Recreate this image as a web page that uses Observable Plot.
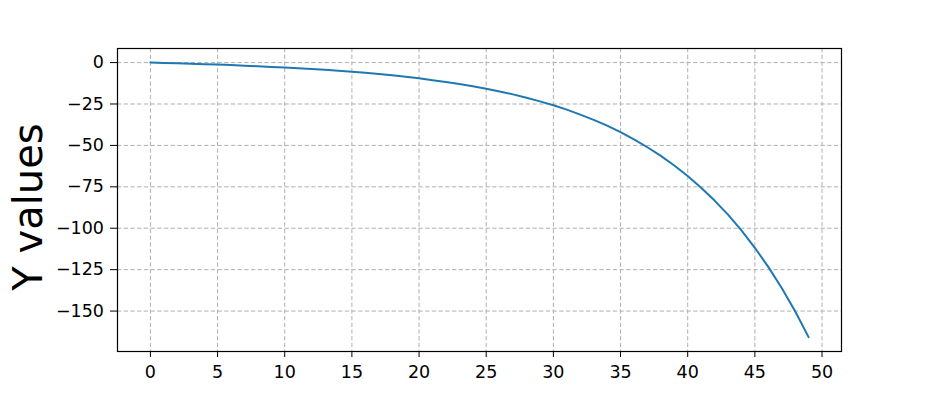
<!DOCTYPE html>
<html>
<head>
<meta charset="utf-8">
<script src="https://cdn.jsdelivr.net/npm/d3@7"></script>
<script src="https://cdn.jsdelivr.net/npm/@observablehq/plot@0.6"></script>
<style>
  html, body { margin: 0; padding: 0; background: #fff; }
  #chart { width: 934px; height: 401px; }
  svg { font-family: "DejaVu Sans", sans-serif; }
</style>
</head>
<body>
<div id="chart"></div>
<script>
// Data
const xValues = [0,1,2,3,4,5,6,7,8,9,10,11,12,13,14,15,16,17,18,19,20,21,22,23,24,25,26,27,28,29,30,31,32,33,34,35,36,37,38,39,40,41,42,43,44,45,46,47,48,49];
const yValues = [0,-0.2,-0.4,-0.7,-1.0,-1.2,-1.5,-1.9,-2.2,-2.6,-3.0,-3.4,-3.9,-4.4,-5.0,-5.6,-6.2,-6.9,-7.7,-8.6,-9.5,-10.6,-11.7,-12.9,-14.3,-15.8,-17.4,-19.2,-21.2,-23.4,-25.8,-28.4,-31.4,-34.6,-38.1,-42.0,-46.3,-51.1,-56.3,-62.1,-68.5,-75.5,-83.3,-91.8,-101.3,-111.8,-123.3,-136.1,-150.1,-165.7];
const xTicks = [0,5,10,15,20,25,30,35,40,45,50];
const yTicks = [0,-25,-50,-75,-100,-125,-150];
const yLabel = "Y values";

const data = xValues.map((x, i) => ({x, y: yValues[i]}));

const chart = Plot.plot({
  width: 934,
  height: 401,
  marginLeft: 117,
  marginRight: 93,
  marginTop: 48,
  marginBottom: 50,
  style: {background: "#fff", fontFamily: "DejaVu Sans, sans-serif"},
  x: {domain: [-2.45, 51.45]},
  y: {domain: [-174.4, 8.5]},
  marks: [
    Plot.gridX(xTicks, {stroke: "#b0b0b0", strokeOpacity: 1, strokeWidth: 1, strokeDasharray: "4.3,2.4"}),
    Plot.gridY(yTicks, {stroke: "#b0b0b0", strokeOpacity: 1, strokeWidth: 1, strokeDasharray: "4.3,2.4"}),
    Plot.line(data, {x: "x", y: "y", stroke: "#1f77b4", strokeWidth: 2}),
    Plot.frame({stroke: "#000", strokeWidth: 1.2}),
    Plot.axisX(xTicks, {tickSize: 6, tickPadding: 8, fontSize: 17.5, label: null, stroke: "#000", fill: "#000"}),
    Plot.axisY(yTicks, {tickSize: 7, tickPadding: 6.5, fontSize: 17.5, label: null, stroke: "#000", fill: "#000"}),
    Plot.text([yLabel], {frameAnchor: "left", textAnchor: "middle", lineAnchor: "middle", rotate: -90, dx: -88, dy: 7, fontSize: 40, fill: "#000"})
  ]
});
document.getElementById("chart").appendChild(chart);
</script>
</body>
</html>
